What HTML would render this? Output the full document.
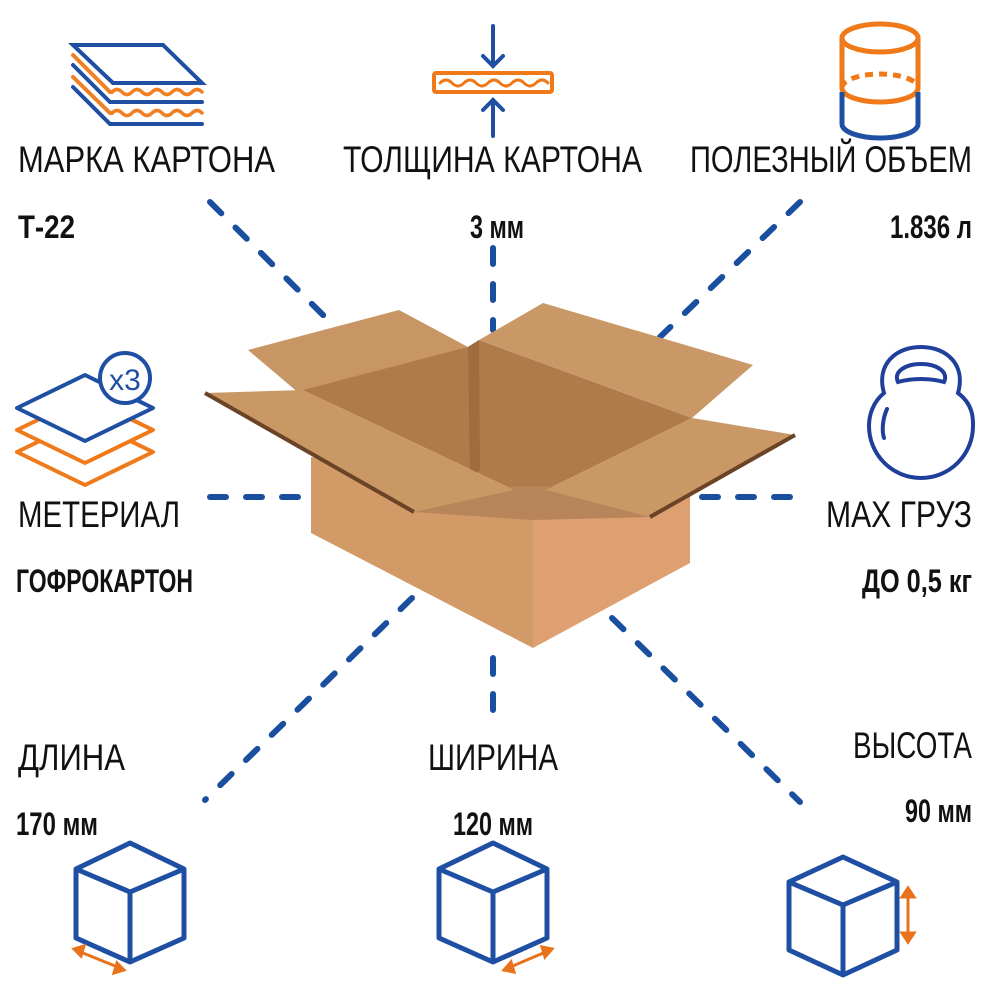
<!DOCTYPE html>
<html><head><meta charset="utf-8"><style>
html,body{margin:0;padding:0;background:#fff;width:1000px;height:1000px;overflow:hidden}
svg{display:block}
.l{font-family:"Liberation Sans Narrow","Liberation Sans","Noto Sans CJK SC",sans-serif;font-size:37px;fill:#111}
.v{font-family:"Liberation Sans Narrow","Liberation Sans","Noto Sans CJK SC",sans-serif;font-size:32px;font-weight:bold;fill:#111}
</style></head><body>
<svg width="1000" height="1000" viewBox="0 0 1000 1000" xmlns="http://www.w3.org/2000/svg">
<g stroke="#1a4fa0" stroke-width="6" stroke-linecap="round" stroke-dasharray="16 20" fill="none">
<line x1="210" y1="202" x2="335" y2="327"/>
<line x1="493" y1="248" x2="493" y2="330"/>
<line x1="800" y1="202" x2="660" y2="337"/>
<line x1="210" y1="497" x2="300" y2="497"/>
<line x1="702" y1="497" x2="800" y2="497"/>
<line x1="412" y1="598" x2="205" y2="800"/>
<line x1="493" y1="658" x2="493" y2="712"/>
<line x1="612" y1="618" x2="800" y2="802"/>
</g>
<!-- box -->
<polygon points="248,350 399,310 468,347 470,420 307,400" fill="#c89664"/>
<polygon points="303,390 468,347 479,340 692,418 546,490 514,490" fill="#b07b4b"/>
<polygon points="468,347 479,340 480,470 470,480" fill="#a06c3e"/>
<polygon points="479,340 543,303 753,365 692,418" fill="#c99866"/>
<polygon points="311,457 533,497 533,648 311,533" fill="#d29a66"/>
<polygon points="533,497 690,480 690,563 533,648" fill="#dea070"/>
<polygon points="414,512 514,486 546,486 650,517 533,520" fill="#b8845a"/>
<polygon points="205,393 303,390 514,490 414,512" fill="#c99865"/>
<polyline points="205,393 414,512" stroke="#6b4326" stroke-width="4" fill="none"/>
<polygon points="546,490 692,418 795,435 650,517" fill="#c99865"/>
<polyline points="650,517 795,435" stroke="#6b4326" stroke-width="4" fill="none"/>
<!-- top-left layers icon -->
<g fill="none" stroke-width="4" stroke-linecap="round">
<polygon points="73,45 163,45 202,83 113,83" stroke="#1f4fa3" fill="#fff"/>
<polyline points="73,55 110,92 112,92" stroke="#f08024"/>
<path d="M112 92 q5 -5 10 0 t10 0 t10 0 t10 0 t10 0 t10 0 t10 0 t10 0 t10 0" stroke="#f08024" stroke-width="3.5"/>
<polyline points="73,65 110,102 202,102" stroke="#1f4fa3"/>
<polyline points="73,77 110,113 112,113" stroke="#f08024"/>
<path d="M112 113 q5 -5 10 0 t10 0 t10 0 t10 0 t10 0 t10 0 t10 0 t10 0 t10 0" stroke="#f08024" stroke-width="3.5"/>
<polyline points="73,87 110,124 202,124" stroke="#1f4fa3"/>
</g>
<!-- thickness icon -->
<g stroke-linecap="round" fill="none">
<rect x="434" y="73" width="118" height="19" rx="2" stroke="#f07a1a" stroke-width="4"/>
<path d="M440 83 q6 -6 12 0 t12 0 t12 0 t12 0 t12 0 t12 0 t12 0 t12 0 t12 0" stroke="#f07a1a" stroke-width="3"/>
<line x1="493" y1="26" x2="493" y2="66" stroke="#1f4fa3" stroke-width="4"/>
<polyline points="483,56 493,66 503,56" stroke="#1f4fa3" stroke-width="4"/>
<line x1="493" y1="100" x2="493" y2="136" stroke="#1f4fa3" stroke-width="4"/>
<polyline points="483,110 493,100 503,110" stroke="#1f4fa3" stroke-width="4"/>
</g>
<!-- cylinder -->
<g fill="none" stroke-width="5">
<path d="M842 88 V38 M918 38 V88" stroke="#f07a1a"/>
<ellipse cx="880" cy="38" rx="38" ry="14" stroke="#f07a1a"/>
<path d="M842 88 A38 14 0 0 0 918 88" stroke="#f07a1a"/>
<path d="M842 88 A38 14 0 0 1 918 88" stroke="#f07a1a" stroke-dasharray="8 6"/>
<path d="M842 92 V124 A38 14 0 0 0 918 124 V92" stroke="#1f4fa3"/>
</g>
<!-- material icon -->
<g fill="#fff" stroke-width="4" stroke-linejoin="round">
<polygon points="17,452 85,419 153,452 85,485" stroke="#f07a1a"/>
<polygon points="17,430 85,397 153,430 85,463" stroke="#f07a1a"/>
<polygon points="17,408 85,375 153,408 85,441" stroke="#1f4fa3"/>
<circle cx="125" cy="378" r="25" stroke="#1f4fa3"/>
</g>
<text x="125" y="390" text-anchor="middle" font-family="Liberation Sans Narrow,Liberation Sans,sans-serif" font-size="30" fill="#1f4fa3">x3</text>
<!-- kettlebell -->
<g fill="none" stroke="#1f3f9a" stroke-width="4" stroke-linecap="round">
<path d="M884 393 C876 365 895 347 921 347 C947 347 966 365 958 393 C974 405 973 420 973 426 A52 52 0 1 1 869 426 C869 415 873 402 884 393 Z"/>
<path d="M898 382 C893 372 905 364 921 364 C937 364 949 372 944 382 C930 378 912 378 898 382 Z"/>
<path d="M887 409 C882 420 882 432 884 438"/>
</g>
<!-- cubes -->
<g fill="none" stroke="#1f4fa3" stroke-width="5" stroke-linejoin="round">
<polygon points="130,843 184,869 184,938 130,962 76,938 76,869"/>
<polyline points="76,869 130,892 184,869"/><line x1="130" y1="892" x2="130" y2="962"/>
<polygon points="493,843 547,869 547,938 493,962 439,938 439,869"/>
<polyline points="439,869 493,892 547,869"/><line x1="493" y1="892" x2="493" y2="962"/>
<polygon points="843,857 897,882 897,950 843,975 789,950 789,882"/>
<polyline points="789,882 843,905 897,882"/><line x1="843" y1="905" x2="843" y2="975"/>
</g>
<g stroke="#e8731c" stroke-width="3" fill="#e8731c">
<line x1="78" y1="951" x2="120" y2="968"/><polygon points="74,949 84,946 81,956"/><polygon points="124,970 114,973 117,963"/>
<line x1="508" y1="968" x2="548" y2="951"/><polygon points="504,970 511,962 514,972"/><polygon points="552,949 545,957 542,947"/>
<line x1="908" y1="894" x2="908" y2="936"/><polygon points="908,888 902,897 914,897"/><polygon points="908,942 902,933 914,933"/>
</g>
<!-- labels -->
<text class="l" x="18" y="172" textLength="257" lengthAdjust="spacingAndGlyphs">МАРКА КАРТОНА</text>
<text class="v" x="18" y="238" textLength="57" lengthAdjust="spacingAndGlyphs">Т-22</text>
<text class="l" x="343" y="172" textLength="299" lengthAdjust="spacingAndGlyphs">ТОЛЩИНА КАРТОНА</text>
<text class="v" x="470" y="238" textLength="54" lengthAdjust="spacingAndGlyphs">3 мм</text>
<text class="l" x="690" y="172" textLength="282" lengthAdjust="spacingAndGlyphs">ПОЛЕЗНЫЙ ОБЪЕМ</text>
<text class="v" x="890" y="238" textLength="82" lengthAdjust="spacingAndGlyphs">1.836 л</text>
<text class="l" x="18" y="527" textLength="162" lengthAdjust="spacingAndGlyphs">МЕТЕРИАЛ</text>
<text class="v" x="16" y="592" textLength="177" lengthAdjust="spacingAndGlyphs">ГОФРОКАРТОН</text>
<text class="l" x="826" y="527" textLength="146" lengthAdjust="spacingAndGlyphs">MAX ГРУЗ</text>
<text class="v" x="862" y="592" textLength="110" lengthAdjust="spacingAndGlyphs">ДО 0,5 кг</text>
<text class="l" x="18" y="770" textLength="107" lengthAdjust="spacingAndGlyphs">ДЛИНА</text>
<text class="v" x="16" y="835" textLength="82" lengthAdjust="spacingAndGlyphs">170 мм</text>
<text class="l" x="428" y="770" textLength="130" lengthAdjust="spacingAndGlyphs">ШИРИНА</text>
<text class="v" x="453" y="835" textLength="80" lengthAdjust="spacingAndGlyphs">120 мм</text>
<text class="l" x="853" y="758" textLength="119" lengthAdjust="spacingAndGlyphs">ВЫСОТА</text>
<text class="v" x="905" y="822" textLength="67" lengthAdjust="spacingAndGlyphs">90 мм</text>
</svg>
</body></html>
